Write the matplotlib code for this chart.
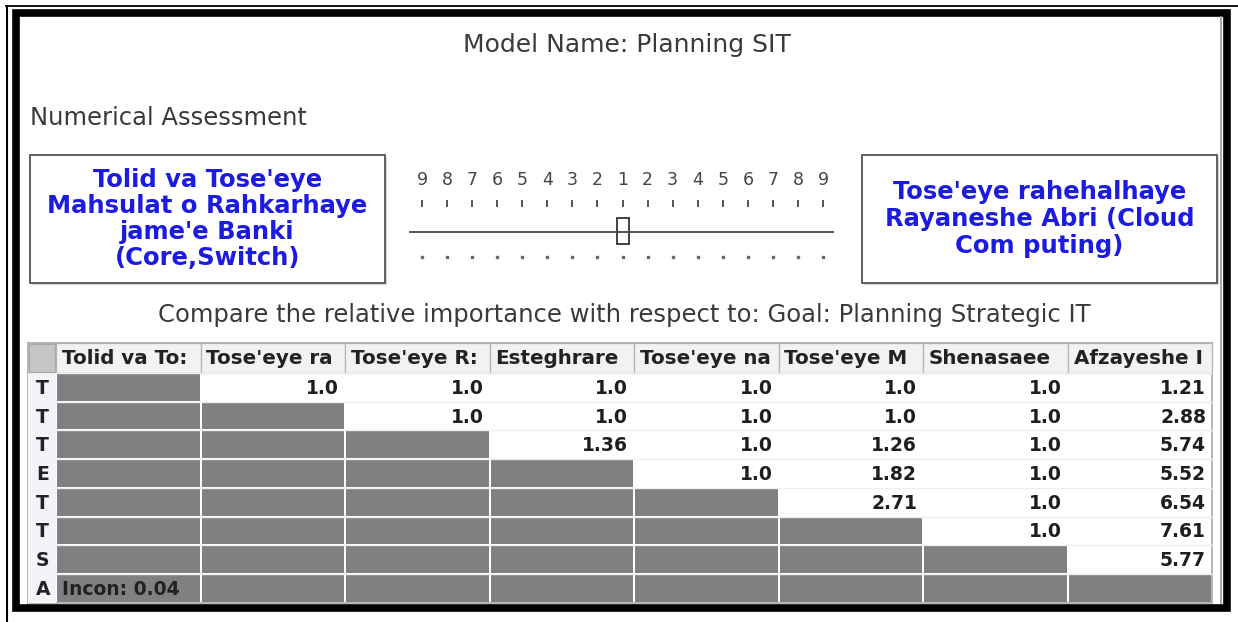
import numpy as np
import matplotlib
matplotlib.use("Agg")
import matplotlib.pyplot as plt
from matplotlib.patches import Rectangle

# --- data ---
model_name = "Model Name: Planning SIT"
left_item = "Tolid va Tose'eye\nMahsulat o Rahkarhaye\njame'e Banki\n(Core,Switch)"
right_item = "Tose'eye rahehalhaye\nRayaneshe Abri (Cloud\nCom puting)"
scale_labels = ["9", "8", "7", "6", "5", "4", "3", "2", "1", "2", "3", "4", "5", "6", "7", "8", "9"]
slider_pos = 8  # index of "1" on the scale
goal_text = "Compare the relative importance with respect to: Goal: Planning Strategic IT"

# header texts as they show (cut off by the column width)
col_headers = ["Tolid va To:", "Tose'eye ra", "Tose'eye R:", "Esteghrare",
               "Tose'eye na", "Tose'eye M", "Shenasaee", "Afzayeshe I"]
row_labels = ["T", "T", "T", "E", "T", "T", "S", "A"]

# upper triangle of the pairwise matrix, row by row
row0 = [1.0, 1.0, 1.0, 1.0, 1.0, 1.0, 1.21]
row1 = [1.0, 1.0, 1.0, 1.0, 1.0, 2.88]
row2 = [1.36, 1.0, 1.26, 1.0, 5.74]
row3 = [1.0, 1.82, 1.0, 5.52]
row4 = [2.71, 1.0, 6.54]
row5 = [1.0, 7.61]
row6 = [5.77]
upper = [row0, row1, row2, row3, row4, row5, row6, []]
incon = 0.04

BLUE = "#1c1ce0"
GREY_TXT = "#3a3a3a"
CELL_GREY = "#808080"

fig = plt.figure(figsize=(12.38, 6.22), dpi=100)
ax = fig.add_axes([0, 0, 1, 1])
ax.set_xlim(0, 1238)
ax.set_ylim(622, 0)
ax.axis("off")

# frames
ax.plot([6, 1238], [5.5, 5.5], color="black", lw=1.3)
ax.plot([6.5, 6.5], [5.5, 622], color="black", lw=1.5)
ax.add_patch(Rectangle((16, 12.5), 1211, 595, fill=False, ec="black", lw=5.5))
ax.plot([1221, 1221], [17, 603], color="#9a9a9a", lw=1.2)

# titles
ax.text(627, 45, model_name, ha="center", va="center", fontsize=18, color=GREY_TXT)
ax.text(30, 118, "Numerical Assessment", ha="left", va="center", fontsize=17.5, color=GREY_TXT)

# item boxes
for (x0, x1, txt, ls) in [(30, 385, left_item, 1.1), (862, 1217, right_item, 1.15)]:
    ax.add_patch(Rectangle((x0 + 2, 157), x1 - x0, 128, fc="#d8d8d8", ec="none"))
    ax.add_patch(Rectangle((x0, 155), x1 - x0, 128, fc="white", ec="#555555", lw=1.3))
    ax.text((x0 + x1) / 2, 219, txt, ha="center", va="center", fontsize=17.5,
            fontweight="bold", color=BLUE, linespacing=ls)

# slider
sx = np.linspace(422, 823, len(scale_labels))
for i, (x, lab) in enumerate(zip(sx, scale_labels)):
    ax.text(x, 180, lab, ha="center", va="center", fontsize=12.5, color="#444444")
    ax.plot([x, x], [201, 206], color="#555555", lw=1.4)
    ax.plot(x, 257, marker="s", ms=1.6, color="#666666")
ax.plot([410, 833], [232, 232], color="#444444", lw=1.3)
ax.add_patch(Rectangle((sx[slider_pos] - 5.5, 218), 12, 26, fc="white", ec="#333333", lw=1.3))

ax.text(624, 315, goal_text, ha="center", va="center", fontsize=17.5, color=GREY_TXT)

# table
tx0, lab_w, col_w = 28, 28, 144.5
ty0, head_h, row_h = 343, 30, 28.7
n = len(col_headers)
tx1 = tx0 + lab_w + n * col_w
ty1 = ty0 + head_h + n * row_h

ax.add_patch(Rectangle((tx0, ty0), tx1 - tx0, ty1 - ty0, fc="white", ec="#a8a8a8", lw=1.2))
ax.add_patch(Rectangle((tx0, ty0 + head_h), lab_w, n * row_h, fc="#f3f3fa", ec="none"))
ax.add_patch(Rectangle((tx0 + 1, ty0 + 1), lab_w - 2, head_h - 2, fc="#c6c6c6", ec="#a8a8a8", lw=0.8))

for j, h in enumerate(col_headers):
    cx = tx0 + lab_w + j * col_w
    ax.add_patch(Rectangle((cx, ty0), col_w, head_h, fc="#f2f2f2", ec="#b4b4b4", lw=0.9))
    clip = Rectangle((cx + 1, ty0), col_w - 3, head_h, transform=ax.transData)
    t = ax.text(cx + 6, ty0 + head_h / 2 + 1, h, ha="left", va="center", fontsize=14.3,
                fontweight="bold", color="#222222", clip_on=True)
    t.set_clip_path(clip)

for i in range(n):
    ry = ty0 + head_h + i * row_h
    ax.text(tx0 + 8, ry + row_h / 2 + 1, row_labels[i], ha="left", va="center",
            fontsize=13.5, fontweight="bold", color="#222222")
    for j in range(n):
        cx = tx0 + lab_w + j * col_w
        if j <= i or i == n - 1:
            ax.add_patch(Rectangle((cx + 1, ry + 1), col_w - 2, row_h - 2, fc=CELL_GREY, ec="none"))
        else:
            v = upper[i][j - i - 1]
            s = "%.1f" % v if v == round(v, 1) else "%.2f" % v
            ax.text(cx + col_w - 6, ry + row_h / 2 + 1, s, ha="right", va="center",
                    fontsize=13.5, fontweight="bold", color="#1e1e1e")
    # thin line between rows
    ax.plot([tx0 + lab_w, tx1], [ry, ry], color="#eeeeee", lw=1.0)

ax.text(tx0 + lab_w + 6, ty0 + head_h + (n - 0.5) * row_h + 1, "Incon: %.2f" % incon,
        ha="left", va="center", fontsize=13.5, fontweight="bold", color="#222222")

fig.savefig("out.png", dpi=100, facecolor="white")
